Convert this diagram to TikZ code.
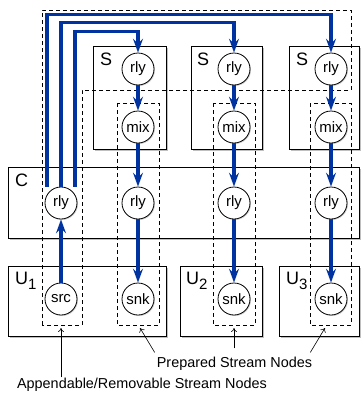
\documentclass[tikz,border=0pt]{standalone}
\usepackage{fontspec}
\setmainfont{Liberation Sans}
\usetikzlibrary{arrows.meta,shadows}

\definecolor{flowblue}{RGB}{0,51,160}

\tikzset{
    box/.style={draw, line width=1pt, fill=white,
        drop shadow={shadow xshift=1.5pt, shadow yshift=-1.5pt, opacity=.5}},
    region/.style={draw, line width=.8pt, dash pattern=on 4pt off 3pt},
    stream/.style={draw, circle, fill=white, minimum size=32pt, inner sep=0pt,
        line width=.8pt, font=\fontsize{15}{17}\selectfont,
        drop shadow={shadow xshift=1pt, shadow yshift=-1pt, opacity=.35}},
    flow/.style={draw=flowblue, line width=3.2pt,
        -{Stealth[length=14pt, width=10pt, inset=5pt]}},
    pointer/.style={draw, line width=.6pt, -{To[length=4pt, width=6pt]}},
    boxlabel/.style={anchor=north west, inner sep=0pt,
        font=\fontsize{18}{20}\selectfont},
    caption/.style={anchor=base, inner sep=0pt,
        font=\fontsize{14.4}{17}\selectfont},
}

\newcommand{\unode}[1]{U\raisebox{-5pt}{\fontsize{15}{17}\selectfont #1}}

\begin{document}
\begin{tikzpicture}[x=1pt, y=-1pt]

    \useasboundingbox (0,0) rectangle (360,394);

    % boxes
    \foreach \xa/\xb in {93/166, 191/262, 289/359}{
        \draw[box] (\xa,46) rectangle (\xb,149);
    }
    \draw[box] (8,167) rectangle (359,238);
    \foreach \xa/\xb in {8/166, 180/262, 279/359}{
        \draw[box] (\xa,266) rectangle (\xb,336);
    }

    % dashed regions
    \draw[region] (42,325) -- (42,10) -- (351,10) -- (351,90)
        -- (82,90) -- (82,325) -- cycle;
    \foreach \xa/\xb in {117/159, 213/255, 310/351}{
        \draw[region] (\xa,103) rectangle (\xb,325);
    }

    % labels
    \foreach \x in {100, 197, 296}{
        \node[boxlabel] at (\x,53) {S};
    }
    \node[boxlabel] (clabel) at (15,174) {C};
    \node[boxlabel] (ulabel1) at (15,272) {\unode{1}};
    \node[boxlabel] (ulabel2) at (186,272) {\unode{2}};
    \node[boxlabel] (ulabel3) at (286,272) {\unode{3}};

    % stream nodes
    \node[stream] (hub) at (61,203) {rly};
    \node[stream] (src) at (61,299) {src};
    \foreach \i/\x in {1/138, 2/234, 3/331}{
        \node[stream] (srly\i) at (\x,69) {rly};
        \node[stream] (mix\i) at (\x,127) {mix};
        \node[stream] (crly\i) at (\x,203) {rly};
        \node[stream] (snk\i) at (\x,299) {snk};
    }

    % flows
    \foreach \i in {1,2,3}{
        \draw[flow] (srly\i) -- (mix\i);
        \draw[flow] (mix\i) -- (crly\i);
        \draw[flow] (crly\i) -- (snk\i);
    }
    \draw[flow] (src) -- (hub);
    \draw[flow] ([xshift=14pt]hub.north) -- ++(0,-155) -| (srly1.north);
    \draw[flow] (hub.north) -- ++(0,-164) -| (srly2.north);
    \draw[flow] ([xshift=-14pt]hub.north) -- ++(0,-172) -| (srly3.north);

    % captions
    \node[caption] (prep) at (234.5,367) {Prepared Stream Nodes};
    \node[caption] (app) at (142,388) {Appendable/Removable Stream Nodes};

    \coordinate (tipA) at (61,328);
    \coordinate (tip1) at (140,328);
    \coordinate (tip2) at (234,328);
    \coordinate (tip3) at (325,328);

    \draw[pointer] (app.north -| tipA) -- (tipA);
    \draw[pointer] ([xshift=-2pt, yshift=4pt]prep.north west) -- (tip1);
    \draw[pointer] ([yshift=8pt]prep.north -| tip2) -- (tip2);
    \draw[pointer] ([xshift=-2pt, yshift=4pt]prep.north east) -- (tip3);

\end{tikzpicture}
\end{document}
